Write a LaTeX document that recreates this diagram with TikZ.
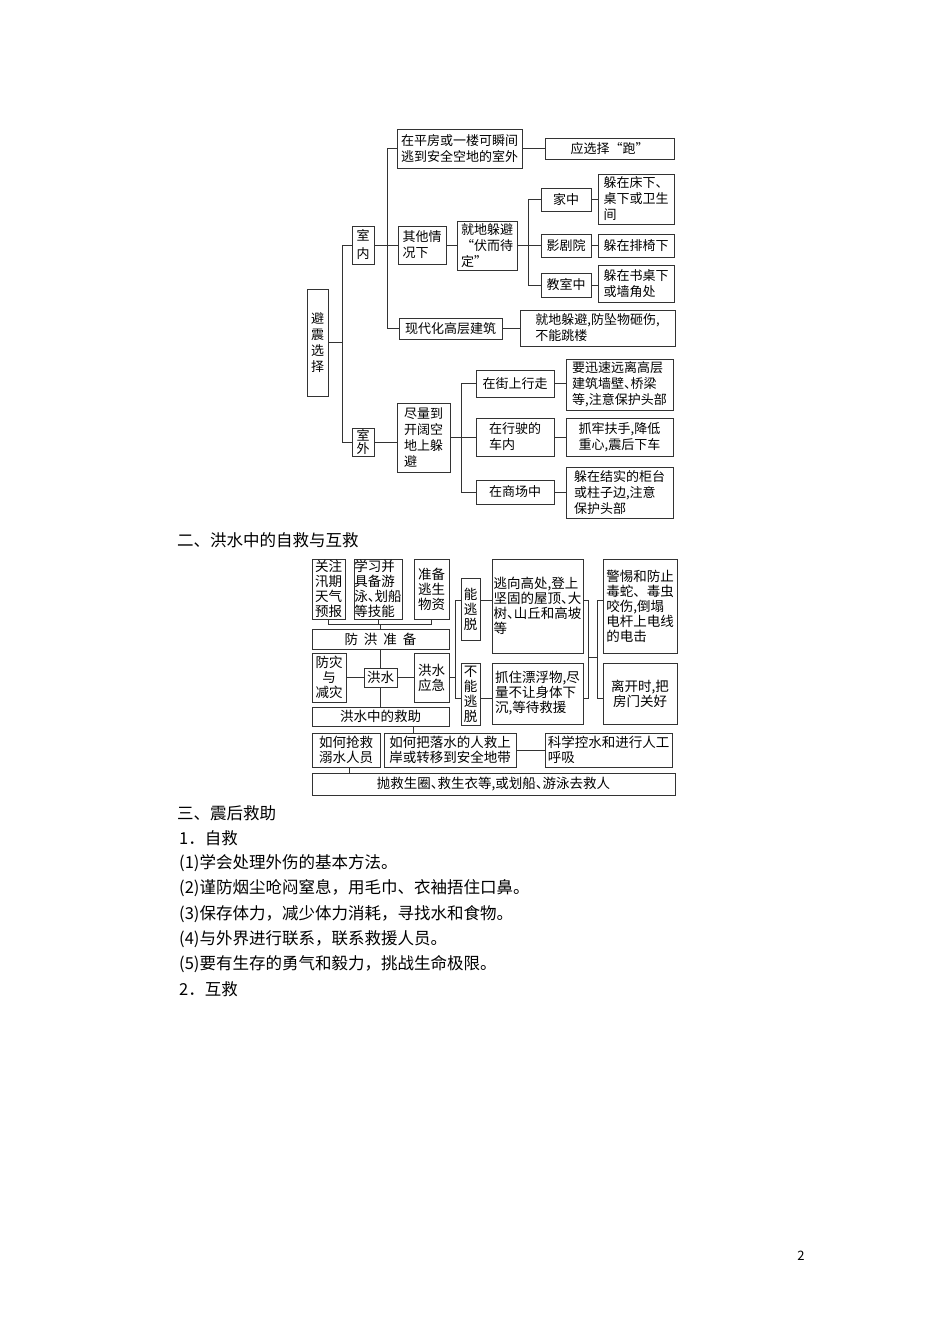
\documentclass[tikz,border=0pt]{standalone}
\usepackage{fontspec}
\setmainfont{Noto Sans CJK SC}
\newcommand\fsA{\fontsize{13}{16}\selectfont}
\newcommand\fsB{\fontsize{13.5}{15}\selectfont}
\newcommand\fsC{\fontsize{16.5}{20}\selectfont}
\newcommand\dun{\makebox[0.5em][l]{、}}
\definecolor{linec}{HTML}{333333}
\tikzset{
  bx/.style={draw=linec, line width=1pt, inner sep=0pt, align=left, font=\fsA},
  bxb/.style={bx, font=\fsB},
  ln/.style={draw=linec, line width=0.9pt},
  txt/.style={anchor=west, inner sep=0pt, font=\fsC},
}
\newcommand\bx[7][]{%
  \pgfmathsetmacro\bxcx{(#3+#5)/2}%
  \pgfmathsetmacro\bxcy{(#4+#6)/2}%
  \pgfmathsetmacro\bxw{#5-#3}%
  \pgfmathsetmacro\bxh{#6-#4}%
  \node[bx,minimum width=\bxw pt,minimum height=\bxh pt,#1] (#2) at (\bxcx,\bxcy) {#7};}
\begin{document}
\begin{tikzpicture}[x=1pt,y=-1pt]
\useasboundingbox (0,0) rectangle (950,1344);
\fill[white] (0,0) rectangle (950,1344);

% ---------- diagram 1 ----------
\bx[align=center]{bz}{307}{289}{328}{396}{避\\震\\选\\择}
\bx[align=center,font=\fontsize{13}{18}\selectfont]{sn}{352}{226}{374}{264}{室\\内}
\bx[align=center,font=\fontsize{13}{13.5}\selectfont]{sw}{352}{428}{374}{456}{室\\外}
\bx{t1}{397}{129}{522}{168}{在平房或一楼可瞬间\\逃到安全空地的室外}
\bx[align=center]{t1r}{545}{138}{674}{159}{应选择“跑”}
\bx{qt}{398}{226}{446}{264}{其他情\\况下}
\bx{jd}{457}{221}{517}{270}{就地躲避\\“伏而待\\定”}
\bx{jz}{541}{188}{591}{211}{家中}
\bx{jzr}{598}{174}{674}{224}{躲在床下、\\桌下或卫生\\间}
\bx{yj}{541}{234}{591}{257}{影剧院}
\bx{yjr}{598}{234}{674}{257}{躲在排椅下}
\bx{js}{541}{273}{591}{297}{教室中}
\bx{jsr}{598}{265}{674}{302}{躲在书桌下\\或墙角处}
\bx{xd}{399}{318}{502}{339}{现代化高层建筑}
\bx{xdr}{520}{310}{675}{346}{就地躲避,防坠物砸伤,\\不能跳楼}
\bx{jl}{397}{403}{450}{472}{尽量到\\开阔空\\地上躲\\避}
\bx{jj}{476}{370}{554}{397}{在街上行走}
\bx{jjr}{566}{359}{673}{410}{要迅速远离高层\\建筑墙壁\dun 桥梁\\等,注意保护头部}
\bx{xs}{476}{418}{554}{456}{在行驶的\\车内}
\bx{xsr}{566}{418}{673}{456}{抓牢扶手,降低\\重心,震后下车}
\bx{sc}{476}{480}{554}{504}{在商场中}
\bx{scr}{566}{467}{673}{518}{躲在结实的柜台\\或柱子边,注意\\保护头部}

\draw[ln] (bz.east) -- ++(14,0) coordinate (J1);
\draw[ln] (sn.west) -| (J1) |- (sw.west);
\draw[ln] (sn.east) -- ++(13,0) coordinate (J2);
\draw[ln] (t1.west) -| (J2) |- (xd.west);
\draw[ln] (J2) -- (qt.west);
\draw[ln] (t1.east) -- (t1r.west);
\draw[ln] (qt.east) -- (qt.east -| jd.west);
\draw[ln] (jd.east) -- ++(11,0) coordinate (J3);
\draw[ln] (jz.west) -| (J3) |- (js.west);
\draw[ln] (J3) -- (yj.west);
\draw[ln] (jz.east) -- (jz.east -| jzr.west);
\draw[ln] (yj.east) -- (yjr.west);
\draw[ln] (js.east) -- (js.east -| jsr.west);
\draw[ln] (xd.east) -- (xd.east -| xdr.west);
\draw[ln] (sw.east) -- (sw.east -| jl.west);
\draw[ln] (jl.east) -- ++(11,0) coordinate (J4);
\draw[ln] (jj.west) -| (J4) |- (sc.west);
\draw[ln] (J4) -- (J4 -| xs.west);
\draw[ln] (jj.east) -- (jj.east -| jjr.west);
\draw[ln] (xs.east) -- (xs.east -| xsr.west);
\draw[ln] (sc.east) -- (sc.east -| scr.west);

% ---------- heading ----------
\node[txt] (h2) at (177,540) {二、洪水中的自救与互救};

% ---------- diagram 2 ----------
\bx[bxb,align=center]{g1}{312}{559}{345}{619}{关注\\汛期\\天气\\预报}
\bx[bxb]{g2}{354}{559}{402}{619}{学习并\\具备游\\泳\dun 划船\\等技能}
\bx[bxb,align=center]{g3}{414}{559}{449}{619}{准备\\逃生\\物资}
\bx[bxb,align=center]{fh}{312}{629}{449}{649}{防\hspace{6pt}洪\hspace{6pt}准\hspace{6pt}备}
\bx[bxb,align=center]{fz}{312}{653}{346}{702}{防灾\\与\\减灾}
\bx[bxb,align=center]{hs}{364}{668}{397}{687}{洪水}
\bx[bxb,align=center]{yjj}{414}{653}{449}{702}{洪水\\应急}
\bx[bxb,align=center]{jz2}{312}{707}{449}{726}{洪水中的救助}
\bx[bxb]{qj}{312}{733}{380}{767}{如何抢救\\溺水人员}
\bx[bxb]{bl}{384}{733}{516}{767}{如何把落水的人救上\\岸或转移到安全地带}
\bx[bxb]{kx}{545}{733}{672}{767}{科学控水和进行人工\\呼吸}
\bx[bxb,align=center]{pj}{312}{773}{675}{795}{抛救生圈\dun 救生衣等,或划船\dun 游泳去救人}
\bx[bxb,align=center]{nt}{461}{578}{480}{640}{能\\逃\\脱}
\bx[bxb,align=center]{bnt}{461}{663}{480}{725}{不\\能\\逃\\脱}
\bx[bxb]{tx}{492}{559}{583}{653}{逃向高处,登上\\坚固的屋顶\dun 大\\树\dun 山丘和高坡\\等}
\bx[bxb]{zz}{492}{663}{583}{724}{抓住漂浮物,尽\\量不让身体下\\沉,等待救援}
\bx[bxb]{jt}{603}{559}{677}{653}{警惕和防止\\毒蛇、毒虫\\咬伤,倒塌\\电杆上电线\\的电击}
\bx[bxb,align=center]{lk}{603}{663}{677}{724}{离开时,把\\房门关好}

\draw[ln] (g1.south) -- ++(0,5) coordinate (B1) -| (g3.south);
\draw[ln] (g2.south) -- (g2.south |- B1);
\draw[ln] (fh.north) -- (fh.north |- B1);
\draw[ln] (fh.south) -- (hs.north);
\draw[ln] (hs.south) -- (jz2.north);
\draw[ln] (fz.east) -- (hs.west);
\draw[ln] (hs.east) -- (yjj.west);
\coordinate (L1) at (455,600);
\coordinate (L2) at (455,698);
\draw[ln] (yjj.east) -- (yjj.east -| L1);
\draw[ln] (L1) -- (L2);
\draw[ln] (L1) -- (L1 -| nt.west);
\draw[ln] (L2) -- (L2 -| bnt.west);
\draw[ln] (nt.east |- L1) -- (tx.west |- L1);
\draw[ln] (bnt.east |- L2) -- (zz.west |- L2);
\coordinate (R1) at (588,600);
\coordinate (R2) at (588,698);
\coordinate (M1) at (588,657);
\coordinate (R3) at (597,600);
\coordinate (R4) at (597,698);
\draw[ln] (tx.east |- R1) -- (R1) -- (R2) -- (zz.east |- R2);
\draw[ln] (M1) -- (M1 -| R3);
\draw[ln] (jt.west |- R3) -- (R3) -- (R4) -- (lk.west |- R4);
\draw[ln] ([xshift=32.5pt]jz2.south) -- ([xshift=32.5pt]jz2.south |- bl.north);
\draw[ln] (bl.east) -- (kx.west);
\draw[ln] ([xshift=3pt]qj.south) -- ([xshift=3pt]qj.south |- pj.north);

% ---------- text ----------
\node[txt] (s3) at (177,813) {三、震后救助};
\node[txt] (a1) at (179,838.5) {1．自救};
\node[txt] (p1) at (179,863.5) {(1)学会处理外伤的基本方法。};
\node[txt] (p2) at (179,888.5) {(2)谨防烟尘呛闷窒息，用毛巾、衣袖捂住口鼻。};
\node[txt] (p3) at (179,914) {(3)保存体力，减少体力消耗，寻找水和食物。};
\node[txt] (p4) at (179,939.5) {(4)与外界进行联系，联系救援人员。};
\node[txt] (p5) at (179,964.5) {(5)要有生存的勇气和毅力，挑战生命极限。};
\node[txt] (a2) at (179,989.5) {2．互救};
\node[font=\fontsize{13}{15}\selectfont, inner sep=0pt] (pg) at (801,1256) {2};
\end{tikzpicture}
\end{document}
